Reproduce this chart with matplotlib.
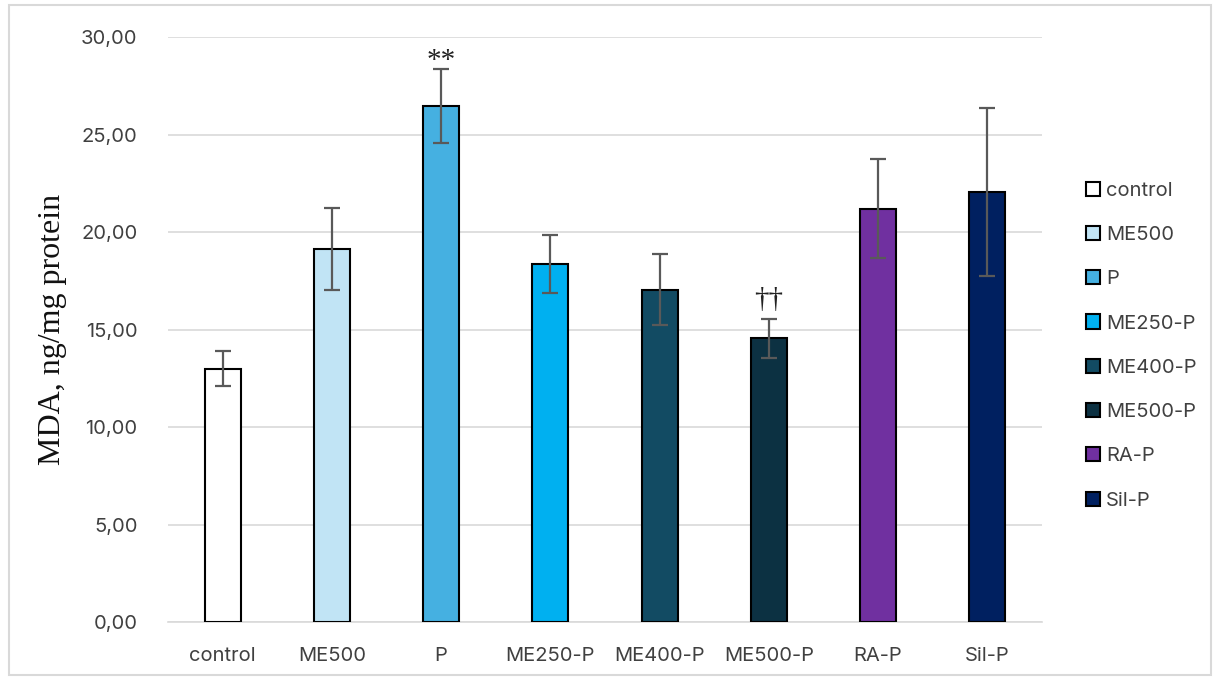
import matplotlib.pyplot as plt
from matplotlib.patches import Rectangle, Patch
from matplotlib.ticker import FuncFormatter

groups = ["control", "ME500", "P", "ME250-P", "ME400-P", "ME500-P", "RA-P", "Sil-P"]
mda = [13.0, 19.15, 26.45, 18.35, 17.05, 14.55, 21.2, 22.05]
sd = [0.9, 2.1, 1.9, 1.5, 1.8, 1.0, 2.55, 4.3]
colors = ["#FFFFFF", "#C1E4F5", "#45B0E1", "#00B0F0", "#124B63", "#0C3142", "#7030A0", "#002060"]
marks = {"P": "**", "ME500-P": "††"}
# asterisks sit high in the em box, so pull them down a little
mark_pad = {"**": -0.25, "††": 0.3}

plt.rcParams['font.family'] = ['Inter', 'DejaVu Sans']

fig = plt.figure(figsize=(12.15, 6.79), dpi=100)
ax = fig.add_axes([0.1383, 0.0839, 0.7193, 0.8616])

x = range(len(groups))
ax.bar(x, mda, width=0.33, color=colors, edgecolor="black", linewidth=1.5, zorder=3)
ax.errorbar(x, mda, yerr=sd, fmt="none", ecolor="#595959", elinewidth=1.6,
            capsize=5.5, capthick=1.6, zorder=4)

for i, g in enumerate(groups):
    if g in marks:
        m = marks[g]
        ax.text(i, mda[i] + sd[i] + mark_pad[m], m, ha="center", va="bottom",
                fontsize=21, family="Liberation Serif", color="#222222")

ax.set_xlim(-0.5, len(groups) - 0.5)
ax.set_ylim(0, 30)
ax.set_yticks(range(0, 31, 5))
ax.yaxis.set_major_formatter(FuncFormatter(lambda v, p: f"{v:.2f}".replace(".", ",")))
ax.set_xticks(list(x))
ax.set_xticklabels(groups)
ax.tick_params(axis="both", length=0, labelsize=14.5, colors="#404040")
ax.tick_params(axis="y", pad=22)
ax.tick_params(axis="x", pad=18)
ax.grid(axis="y", color="#D9D9D9", linewidth=1.2, zorder=0)
for s in ["top", "right", "left"]:
    ax.spines[s].set_visible(False)
ax.spines["bottom"].set_color("#D9D9D9")
ax.spines["bottom"].set_linewidth(1.2)

ax.set_ylabel("MDA, ng/mg protein", family="Liberation Serif", fontsize=23,
              color="#111111", labelpad=10)

handles = [Patch(facecolor=c, edgecolor="black", linewidth=1.5) for c in colors]
fig.legend(handles, groups, loc="center left", bbox_to_anchor=(0.879, 0.491),
           frameon=False, fontsize=14.5, labelspacing=1.3, handlelength=0.7,
           handleheight=0.7, handletextpad=0.3, labelcolor="#404040")

fig.patches.append(Rectangle((0.007, 0.006), 0.99, 0.987, transform=fig.transFigure,
                             fill=False, edgecolor="#D9D9D9", linewidth=1.5))

fig.savefig("out.png", dpi=100, facecolor="white")
